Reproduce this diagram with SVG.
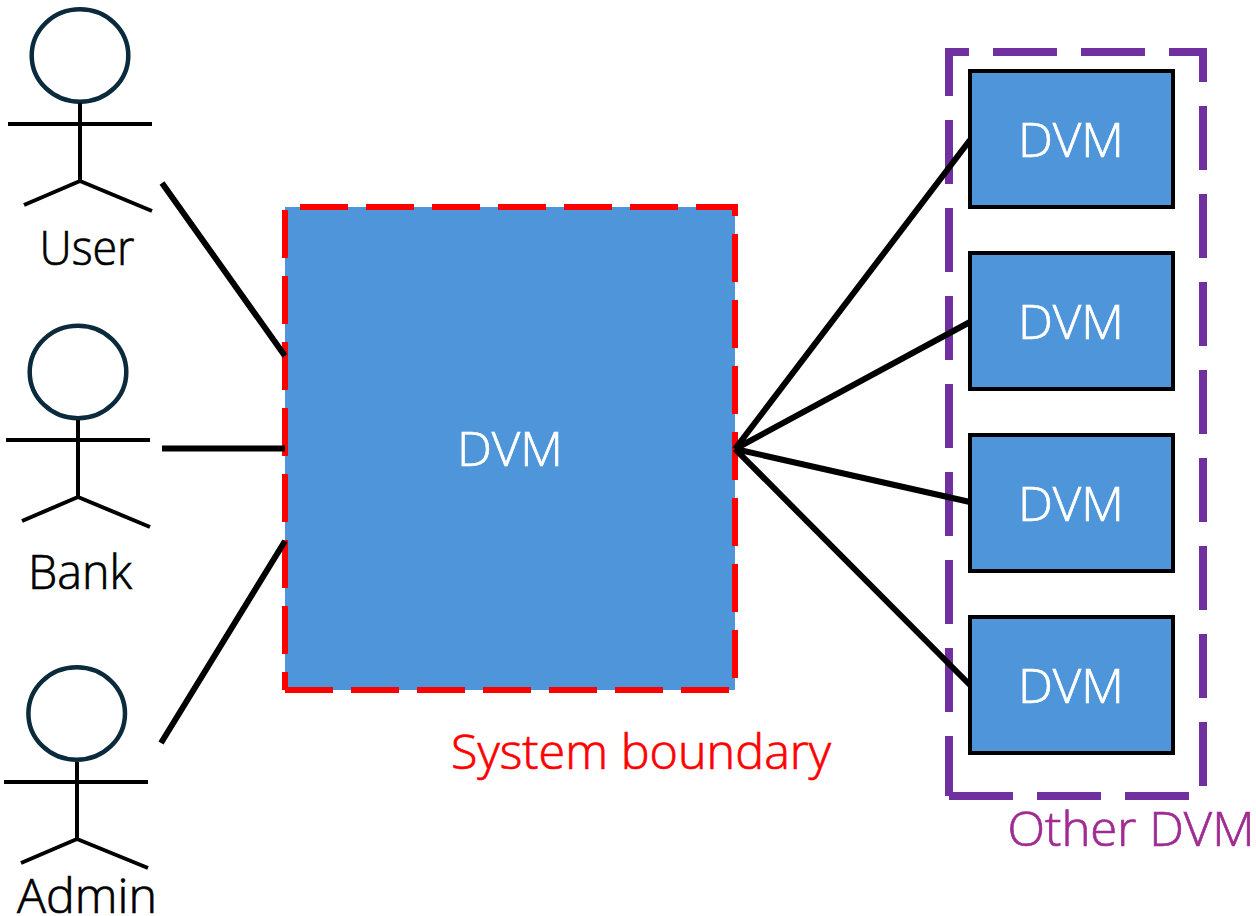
<svg xmlns="http://www.w3.org/2000/svg" width="1256" height="916" viewBox="0 0 1256 916">
<style>
text{font-family:"Open Sans","Noto Sans","Noto Sans CJK KR",sans-serif;font-size:47px;font-weight:300;stroke-width:.7px;fill:#000;stroke:#000}
.a{fill:none;stroke:#000;stroke-width:4}
.h{fill:#fff;stroke:#0b2a3c;stroke-width:4.500}
.c{stroke:#000;stroke-width:6;fill:none}
.b{fill:#4f95d9;stroke:#000;stroke-width:4}
text.w{fill:#fff;stroke:#fff}
text.r{fill:#f00;stroke:#f00}
text.p{fill:#a02b93;stroke:#a02b93}
</style>
<rect width="1256" height="916" fill="#fff"/>
<g id="main-dvm"><rect x="285" y="207" width="450" height="483" fill="#4f95d9"/><text class="w" x="510" y="466" text-anchor="middle" textLength="106" lengthAdjust="spacingAndGlyphs">DVM</text></g>
<g id="boundary"><path d="M285 690H735V207H285V690" fill="none" stroke="#f00" stroke-width="6" stroke-dasharray="48 18"/><text class="r" x="641" y="769" text-anchor="middle" textLength="380" lengthAdjust="spacingAndGlyphs">System boundary</text></g>
<g id="other"><path d="M949 796H1203V52H949V796" fill="none" stroke="#7030a0" stroke-width="8" stroke-dasharray="64 24"/><text class="p" x="1131" y="846" text-anchor="middle" textLength="247" lengthAdjust="spacingAndGlyphs">Other DVM</text></g>
<g id="connectors">
<path class="c" d="M162 183L285 356M162 448.500H285M161 743L285 541M735 449L970 140M735 449L970 322M735 449L970 502M735 449L970 685"/>
</g>
<g id="user"><ellipse class="h" cx="80" cy="55.500" rx="48.300" ry="46.300"/><path class="a" d="M80 103V181M8 124H152M80 181L24 205M80 181L152 211"/><text x="87" y="265" text-anchor="middle" textLength="95" lengthAdjust="spacingAndGlyphs">User</text></g>
<g id="bank"><ellipse class="h" cx="78" cy="372" rx="48.300" ry="46.300"/><path class="a" d="M78 420V497M6 440H150M78 497L22 521M78 497L150 527"/><text x="80" y="589" text-anchor="middle" textLength="104" lengthAdjust="spacingAndGlyphs">Bank</text></g>
<g id="admin"><ellipse class="h" cx="76.700" cy="713.500" rx="48.300" ry="46.300"/><path class="a" d="M77 762V839M4 782H148M77 839L21 863M77 839L148 868"/><text x="87" y="913" text-anchor="middle" textLength="140" lengthAdjust="spacingAndGlyphs">Admin</text></g>
<g id="dvm1"><rect class="b" x="970" y="71" width="203" height="136"/><text class="w" x="1071" y="156.500" text-anchor="middle" textLength="106" lengthAdjust="spacingAndGlyphs">DVM</text></g>
<g id="dvm2"><rect class="b" x="970" y="253" width="203" height="136"/><text class="w" x="1071" y="338.500" text-anchor="middle" textLength="106" lengthAdjust="spacingAndGlyphs">DVM</text></g>
<g id="dvm3"><rect class="b" x="970" y="435" width="203" height="136"/><text class="w" x="1071" y="520.500" text-anchor="middle" textLength="106" lengthAdjust="spacingAndGlyphs">DVM</text></g>
<g id="dvm4"><rect class="b" x="970" y="617" width="203" height="136"/><text class="w" x="1071" y="702.500" text-anchor="middle" textLength="106" lengthAdjust="spacingAndGlyphs">DVM</text></g>
</svg>
